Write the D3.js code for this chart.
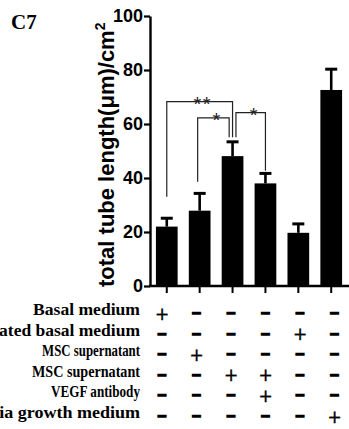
<!DOCTYPE html>
<html>
<head>
<meta charset="utf-8">
<script src="https://cdn.jsdelivr.net/npm/d3@7"></script>
<style>
  html, body { margin: 0; padding: 0; background: #fff; }
  svg { display: block; }
</style>
</head>
<body>
<svg id="chart" width="349" height="429"></svg>
<script>
// ---------- data ----------
const groups = ["G1", "G2", "G3", "G4", "G5", "G6"];
const means = [22.0, 27.9, 48.1, 38.0, 19.7, 72.6];
const sems = [3.1, 6.4, 5.3, 3.7, 3.3, 7.7];
const yTicks = [0, 20, 40, 60, 80, 100];
const yLabel = "total tube length(μm)/cm";
const panelLabel = "C7";

const conditionLabels = [
  "Basal medium",
  "ated basal medium",
  "MSC supernatant",
  "MSC supernatant",
  "VEGF antibody",
  "ia growth medium"
];
const conditionMatrix = [
  ["+", "−", "−", "−", "−", "−"],
  ["−", "−", "−", "−", "+", "−"],
  ["−", "+", "−", "−", "−", "−"],
  ["−", "−", "+", "+", "−", "−"],
  ["−", "−", "−", "+", "−", "−"],
  ["−", "−", "−", "−", "−", "+"]
];

// significance brackets: from group, to group, label, top value, left-leg end value, right-leg end value
const sigFrom = [0, 1, 2];
const sigTo = [2, 2, 3];
const sigText = ["**", "*", "*"];
const sigTop = [68.3, 62.3, 64.2];
const sigLeftEnd = [33.1, 38.6, 55.1];
const sigRightEnd = [55.1, 55.1, 42.7];

// ---------- layout / style ----------
const svg = d3.select("#chart");
const serif = "'Liberation Serif', 'Times New Roman', Times, serif";
const sans = "'Liberation Sans', Arial, Helvetica, sans-serif";
const narrow = "'Liberation Sans Narrow', 'Arial Narrow', 'Liberation Sans', Arial, sans-serif";

const x = d3.scaleBand().domain(groups).range([150, 348]).paddingInner(0.34).paddingOuter(0.18);
const y = d3.scaleLinear().domain([0, 100]).range([286, 16]);

// panel label
svg.append("text").attr("x", 11).attr("y", 29)
  .attr("font-family", serif).attr("font-weight", "bold").attr("font-size", 21)
  .text(panelLabel);

// bars
svg.append("g").selectAll("rect").data(groups).join("rect")
  .attr("x", d => x(d)).attr("width", x.bandwidth())
  .attr("y", (d, i) => y(means[i])).attr("height", (d, i) => y(0) - y(means[i]))
  .attr("fill", "#000");

// error bars
const eb = svg.append("g").attr("stroke", "#000");
groups.forEach((g, i) => {
  const cx = x(g) + x.bandwidth() / 2;
  eb.append("line").attr("x1", cx).attr("x2", cx)
    .attr("y1", y(means[i])).attr("y2", y(means[i] + sems[i])).attr("stroke-width", 2.6);
  eb.append("line").attr("x1", cx - 6).attr("x2", cx + 6)
    .attr("y1", y(means[i] + sems[i])).attr("y2", y(means[i] + sems[i])).attr("stroke-width", 3);
});

// y axis
const yAxis = svg.append("g").attr("transform", "translate(150,0)")
  .call(d3.axisLeft(y).tickValues(yTicks).tickSize(6).tickPadding(1).tickSizeOuter(0));
yAxis.select(".domain").attr("stroke-width", 2.4);
yAxis.selectAll(".tick line").attr("stroke-width", 2.2);
yAxis.selectAll(".tick text").attr("font-family", narrow).attr("font-weight", "bold")
  .attr("font-size", 18).attr("fill", "#000");

// x axis
const xAxis = svg.append("g").attr("transform", `translate(0,${y(0)})`)
  .call(d3.axisBottom(x).tickSize(7).tickSizeOuter(0).tickFormat(""));
xAxis.select(".domain").attr("stroke-width", 2.4).attr("d", "M149,0H349");
xAxis.selectAll(".tick line").attr("stroke-width", 2);

// y label
const yl = svg.append("text")
  .attr("transform", `translate(113.5,287) rotate(-90)`)
  .attr("font-family", sans).attr("font-weight", "bold").attr("font-size", 22)
  .attr("text-anchor", "start").attr("fill", "#000");
yl.append("tspan").text(yLabel);
yl.append("tspan").attr("font-size", 14).attr("dy", -9).text("2");

// significance brackets
const legOffsets = [[0, 0], [-2, -3.4], [3.4, 0]];
const sg = svg.append("g");
sigFrom.forEach((f, k) => {
  const x1 = x(groups[f]) + x.bandwidth() / 2 + legOffsets[k][0];
  const x2 = x(groups[sigTo[k]]) + x.bandwidth() / 2 + legOffsets[k][1];
  const yt = y(sigTop[k]);
  sg.append("path")
    .attr("d", `M${x1},${y(sigLeftEnd[k])}V${yt}H${x2}V${y(sigRightEnd[k])}`)
    .attr("fill", "none").attr("stroke", "#222").attr("stroke-width", 1.2);
  sg.append("text").attr("x", (x1 + x2) / 2 + 3).attr("y", yt + 9)
    .attr("text-anchor", "middle").attr("font-family", sans).attr("font-size", 20)
    .attr("letter-spacing", sigText[k].length > 1 ? 1.5 : 0)
    .attr("fill", "#222").text(sigText[k]);
});

// condition table
const rowY = d3.scalePoint().domain(d3.range(conditionLabels.length)).range([315, 418]);
const colX = d3.scalePoint().domain(groups).range([162, 334.5]);
const labelFit = [107, 141, 98, 108, 89, 141];   // visible widths of the row labels
const tbl = svg.append("g");
conditionLabels.forEach((lab, r) => {
  const t = tbl.append("text").attr("x", 0).attr("y", 0)
    .attr("text-anchor", "end").attr("font-family", serif).attr("font-weight", "bold")
    .attr("font-size", 16.5).text(lab);
  const natural = t.node().getComputedTextLength();
  const sx = labelFit[r] / natural;
  t.attr("transform", `translate(140,${rowY(r)}) scale(${sx},1)`);
  conditionMatrix[r].forEach((s, c) => {
    const cx = colX(groups[c]);
    const cy = rowY(r) - 1.5;
    if (s === "+") {
      tbl.append("text").attr("x", cx).attr("y", cy).attr("dominant-baseline", "central")
        .attr("text-anchor", "middle")
        .attr("font-family", "'DejaVu Sans', sans-serif").attr("font-size", 17)
        .attr("stroke", "#000").attr("stroke-width", 0.4)
        .attr("fill", "#000").text("+");
    } else {
      tbl.append("text").attr("x", cx).attr("y", cy - 1).attr("dominant-baseline", "central")
        .attr("text-anchor", "middle")
        .attr("font-family", sans).attr("font-weight", "bold").attr("font-size", 16)
        .attr("stroke", "#000").attr("stroke-width", 1.3).attr("fill", "#000").text("–");
    }
  });
});
</script>
</body>
</html>
